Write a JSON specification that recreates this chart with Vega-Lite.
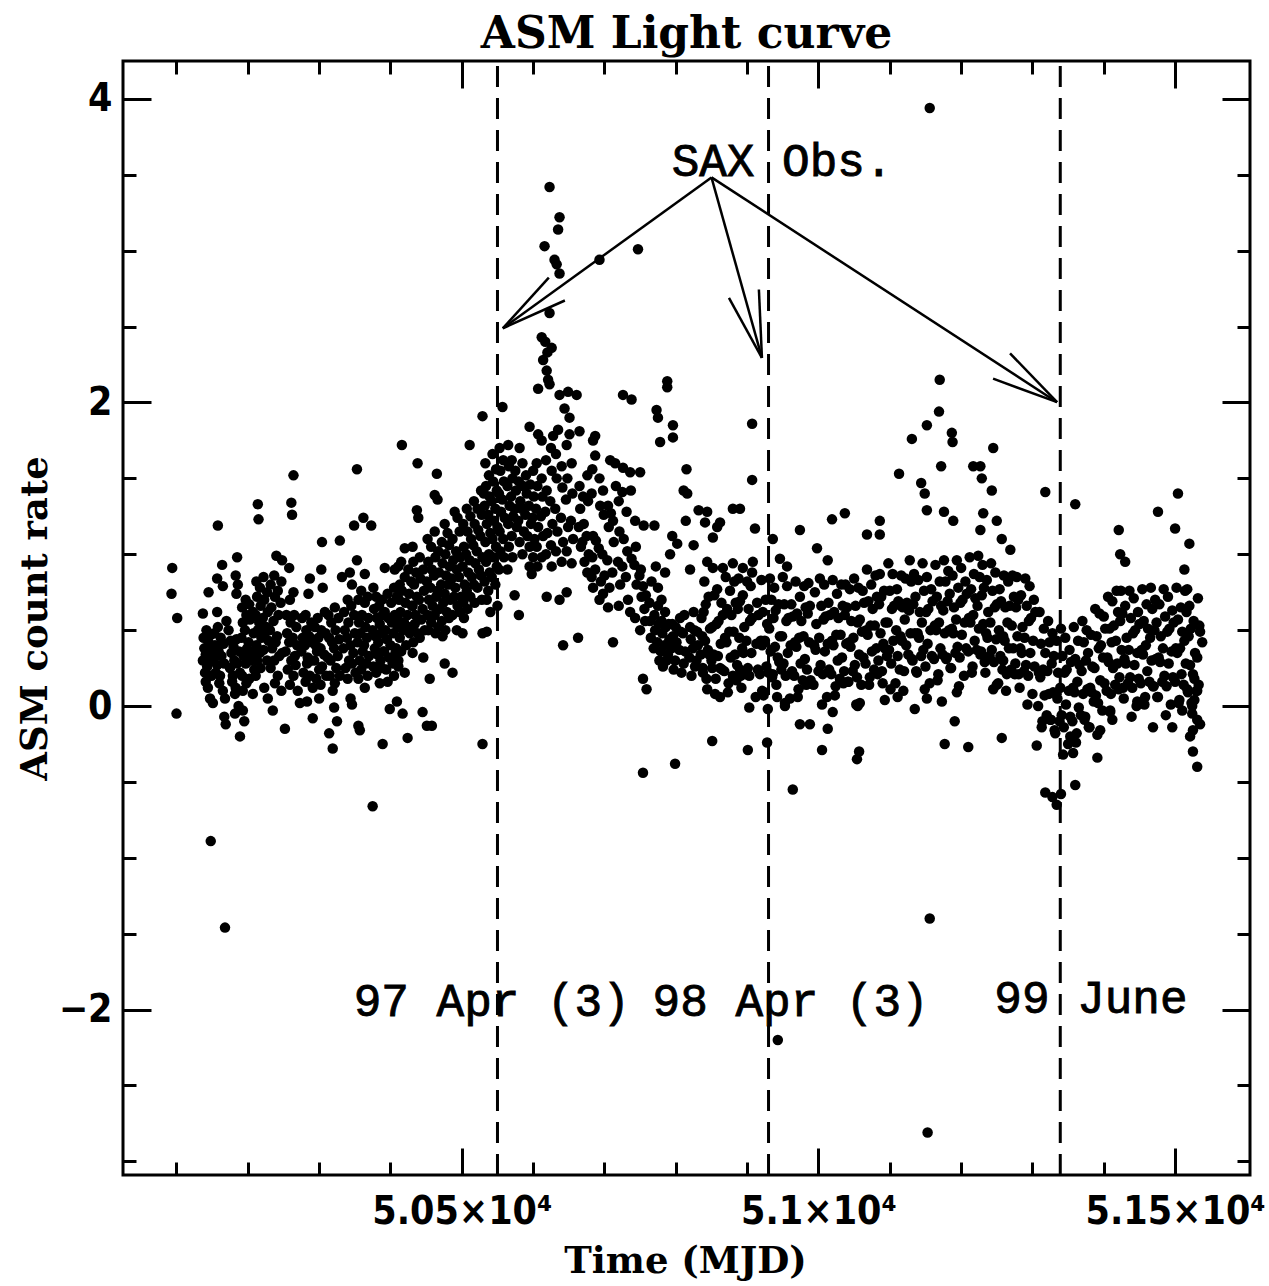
{
"$schema":"https://vega.github.io/schema/vega-lite/v6.json",
"width":1127,"height":1114,
"autosize":"none",
"padding":{"left":123,"top":61,"right":19,"bottom":111},
"background":"white",
"title":{"text":"ASM Light curve","font":"DejaVu Serif","fontSize":44,"fontWeight":"bold","color":"black","anchor":"middle","offset":3},
"config":{"view":{"stroke":"black","strokeWidth":3},"axis":{"domain":false,"grid":false,"tickColor":"black","tickWidth":3,"labelColor":"black","titleColor":"black"}},
"datasets":{
"obs":[{"t":50550},{"t":50930},{"t":51339}],
"arrows":[
{"t":50850,"r":3.483,"t2":50557.5,"r2":2.489},
{"t":50557.5,"r":2.489,"t2":50644.5,"r2":2.672},
{"t":50557.5,"r":2.489,"t2":50622,"r2":2.823},
{"t":50850,"r":3.483,"t2":50920.75,"r2":2.294},
{"t":50920.75,"r":2.294,"t2":50916.5,"r2":2.744},
{"t":50920.75,"r":2.294,"t2":50874.5,"r2":2.689},
{"t":50850,"r":3.483,"t2":51334.5,"r2":2.002},
{"t":51334.5,"r":2.002,"t2":51268.6,"r2":2.324},
{"t":51334.5,"r":2.002,"t2":51244.8,"r2":2.157}],
"sax":[{"t":50949,"r":3.49,"label":"SAX Obs."}],
"dates":[{"t":50542,"r":-2.04,"label":"97 Apr (3)"},{"t":50961,"r":-2.04,"label":"98 Apr (3)"},{"t":51382,"r":-2.02,"label":"99 June"}],
"pts":[
{"t":50094,"r":0.91},{"t":50093,"r":0.74},{"t":50101,"r":0.58},{"t":50100,"r":-0.05},
{"t":50137,"r":0.61},{"t":50145,"r":0.75},{"t":50138,"r":0.45},{"t":50139,"r":0.38},{"t":50137,"r":0.30},{"t":50140,"r":0.22},{"t":50142,"r":0.50},{"t":50141,"r":0.34},{"t":50143,"r":0.26},{"t":50141,"r":0.16},{"t":50145,"r":0.42},{"t":50146,"r":0.29},{"t":50144,"r":0.12},{"t":50148,"r":0.47},{"t":50149,"r":0.20},{"t":50147,"r":0.05},{"t":50148,"r":0.36},{"t":50151,"r":0.02},{"t":50148,"r":-0.89},
{"t":50158,"r":1.19},{"t":50164,"r":0.93},{"t":50157,"r":0.84},{"t":50165,"r":0.79},{"t":50157,"r":0.62},{"t":50170,"r":0.56},{"t":50153,"r":0.48},{"t":50154,"r":0.40},{"t":50152,"r":0.31},{"t":50155,"r":0.22},{"t":50158,"r":0.52},{"t":50159,"r":0.36},{"t":50157,"r":0.27},{"t":50160,"r":0.15},{"t":50162,"r":0.45},{"t":50163,"r":0.33},{"t":50161,"r":0.20},{"t":50166,"r":0.41},{"t":50167,"r":0.28},{"t":50165,"r":0.10},{"t":50168,"r":0.05},{"t":50167,"r":-0.07},{"t":50169,"r":-0.12},{"t":50168,"r":-1.46},
{"t":50185,"r":0.98},{"t":50183,"r":0.86},{"t":50186,"r":0.80},{"t":50184,"r":0.74},{"t":50173,"r":0.50},{"t":50176,"r":0.43},{"t":50177,"r":0.35},{"t":50175,"r":0.25},{"t":50178,"r":0.16},{"t":50180,"r":0.39},{"t":50181,"r":0.30},{"t":50179,"r":0.20},{"t":50182,"r":0.08},{"t":50184,"r":0.44},{"t":50185,"r":0.28},{"t":50183,"r":0.12},{"t":50188,"r":0.36},{"t":50189,"r":0.22},{"t":50187,"r":0.00},{"t":50182,"r":-0.05},{"t":50189,"r":-0.20},
{"t":50193,"r":-0.03},{"t":50195,"r":-0.10},{"t":50192,"r":0.65},{"t":50193,"r":0.55},{"t":50191,"r":0.45},{"t":50194,"r":0.33},{"t":50192,"r":0.20},{"t":50193,"r":0.10},{"t":50197,"r":0.70},{"t":50198,"r":0.60},{"t":50196,"r":0.50},{"t":50199,"r":0.38},{"t":50197,"r":0.28},{"t":50198,"r":0.15},{"t":50202,"r":0.67},{"t":50203,"r":0.57},{"t":50201,"r":0.42},{"t":50204,"r":0.30},{"t":50202,"r":0.18},{"t":50207,"r":0.62},{"t":50208,"r":0.48},{"t":50206,"r":0.35},{"t":50209,"r":0.24},{"t":50207,"r":0.08},
{"t":50214,"r":1.33},{"t":50215,"r":1.23},{"t":50212,"r":0.82},{"t":50213,"r":0.72},{"t":50211,"r":0.60},{"t":50214,"r":0.50},{"t":50212,"r":0.40},{"t":50213,"r":0.30},{"t":50211,"r":0.20},{"t":50217,"r":0.78},{"t":50218,"r":0.66},{"t":50216,"r":0.55},{"t":50219,"r":0.45},{"t":50217,"r":0.35},{"t":50218,"r":0.25},{"t":50222,"r":0.85},{"t":50223,"r":0.70},{"t":50221,"r":0.58},{"t":50224,"r":0.48},{"t":50222,"r":0.37},{"t":50223,"r":0.12},{"t":50227,"r":0.75},{"t":50228,"r":0.62},{"t":50226,"r":0.52},{"t":50229,"r":0.43},{"t":50227,"r":0.30},{"t":50228,"r":0.05},
{"t":50235,"r":-0.03},{"t":50240,"r":0.99},{"t":50248,"r":0.96},{"t":50232,"r":0.80},{"t":50233,"r":0.65},{"t":50231,"r":0.50},{"t":50234,"r":0.38},{"t":50232,"r":0.25},{"t":50237,"r":0.86},{"t":50238,"r":0.72},{"t":50236,"r":0.56},{"t":50239,"r":0.42},{"t":50237,"r":0.30},{"t":50238,"r":0.15},{"t":50242,"r":0.76},{"t":50243,"r":0.60},{"t":50241,"r":0.46},{"t":50244,"r":0.33},{"t":50242,"r":0.20},{"t":50247,"r":0.82},{"t":50246,"r":0.68},{"t":50248,"r":0.35},{"t":50247,"r":0.10},
{"t":50252,"r":-0.15},{"t":50264,"r":1.52},{"t":50261,"r":1.34},{"t":50262,"r":1.26},{"t":50258,"r":0.91},{"t":50254,"r":0.60},{"t":50255,"r":0.48},{"t":50253,"r":0.36},{"t":50256,"r":0.24},{"t":50259,"r":0.70},{"t":50260,"r":0.55},{"t":50258,"r":0.42},{"t":50261,"r":0.30},{"t":50259,"r":0.14},{"t":50264,"r":0.75},{"t":50265,"r":0.60},{"t":50263,"r":0.45},{"t":50266,"r":0.33},{"t":50264,"r":0.20},{"t":50268,"r":0.52},{"t":50269,"r":0.40},{"t":50267,"r":0.27},{"t":50270,"r":0.10},
{"t":50273,"r":0.02},{"t":50283,"r":0.03},{"t":50287,"r":0.84},{"t":50276,"r":0.58},{"t":50277,"r":0.45},{"t":50275,"r":0.36},{"t":50278,"r":0.22},{"t":50281,"r":0.60},{"t":50282,"r":0.50},{"t":50280,"r":0.40},{"t":50283,"r":0.28},{"t":50281,"r":0.16},{"t":50285,"r":0.74},{"t":50286,"r":0.46},{"t":50284,"r":0.32},{"t":50287,"r":0.20},{"t":50289,"r":0.55},{"t":50290,"r":0.42},{"t":50288,"r":0.30},{"t":50291,"r":0.12},
{"t":50291,"r":-0.08},{"t":50300,"r":0.05},{"t":50304,"r":1.08},{"t":50303,"r":0.90},{"t":50305,"r":0.78},{"t":50294,"r":0.52},{"t":50295,"r":0.40},{"t":50293,"r":0.30},{"t":50296,"r":0.18},{"t":50298,"r":0.58},{"t":50299,"r":0.45},{"t":50297,"r":0.36},{"t":50300,"r":0.24},{"t":50303,"r":0.50},{"t":50302,"r":0.38},{"t":50304,"r":0.26},{"t":50302,"r":0.14},{"t":50308,"r":0.62},{"t":50309,"r":0.48},{"t":50307,"r":0.34},{"t":50310,"r":0.20},{"t":50314,"r":-0.18},
{"t":50329,"r":1.09},{"t":50321,"r":-0.01},{"t":50325,"r":-0.10},{"t":50319,"r":-0.28},{"t":50332,"r":0.85},{"t":50313,"r":0.60},{"t":50314,"r":0.45},{"t":50312,"r":0.32},{"t":50315,"r":0.20},{"t":50317,"r":0.55},{"t":50318,"r":0.42},{"t":50316,"r":0.30},{"t":50319,"r":0.10},{"t":50322,"r":0.65},{"t":50323,"r":0.50},{"t":50321,"r":0.38},{"t":50324,"r":0.25},{"t":50322,"r":0.15},{"t":50327,"r":0.58},{"t":50328,"r":0.44},{"t":50326,"r":0.33},{"t":50329,"r":0.20},
{"t":50349,"r":1.19},{"t":50353,"r":1.56},{"t":50344,"r":0.05},{"t":50346,"r":0.01},{"t":50355,"r":-0.13},{"t":50357,"r":-0.16},{"t":50343,"r":0.88},{"t":50346,"r":0.80},{"t":50335,"r":0.62},{"t":50336,"r":0.50},{"t":50334,"r":0.38},{"t":50337,"r":0.25},{"t":50340,"r":0.70},{"t":50341,"r":0.55},{"t":50339,"r":0.45},{"t":50342,"r":0.30},{"t":50340,"r":0.18},{"t":50345,"r":0.66},{"t":50344,"r":0.40},{"t":50346,"r":0.28},{"t":50349,"r":0.60},{"t":50350,"r":0.48},{"t":50348,"r":0.35},{"t":50351,"r":0.22},
{"t":50362,"r":1.24},{"t":50373,"r":1.19},{"t":50364,"r":0.87},{"t":50375,"r":-0.66},{"t":50353,"r":0.96},{"t":50355,"r":0.70},{"t":50356,"r":0.55},{"t":50354,"r":0.42},{"t":50357,"r":0.30},{"t":50355,"r":0.18},{"t":50359,"r":0.76},{"t":50360,"r":0.60},{"t":50358,"r":0.48},{"t":50361,"r":0.36},{"t":50359,"r":0.24},{"t":50364,"r":0.68},{"t":50365,"r":0.52},{"t":50363,"r":0.40},{"t":50366,"r":0.28},{"t":50364,"r":0.12},{"t":50368,"r":0.72},{"t":50369,"r":0.58},{"t":50367,"r":0.45},{"t":50370,"r":0.33},{"t":50368,"r":0.20},
{"t":50385,"r":0.15},{"t":50389,"r":-0.25},{"t":50376,"r":0.78},{"t":50377,"r":0.64},{"t":50375,"r":0.50},{"t":50378,"r":0.38},{"t":50376,"r":0.26},{"t":50380,"r":0.72},{"t":50381,"r":0.58},{"t":50379,"r":0.46},{"t":50382,"r":0.34},{"t":50380,"r":0.22},{"t":50384,"r":0.66},{"t":50385,"r":0.54},{"t":50383,"r":0.42},{"t":50386,"r":0.30},{"t":50388,"r":0.70},{"t":50389,"r":0.60},{"t":50387,"r":0.48},{"t":50390,"r":0.36},{"t":50388,"r":0.25},{"t":50392,"r":0.91},
{"t":50399,"r":-0.02},{"t":50409,"r":0.03},{"t":50406,"r":0.90},{"t":50392,"r":0.62},{"t":50393,"r":0.50},{"t":50391,"r":0.36},{"t":50394,"r":0.24},{"t":50396,"r":0.74},{"t":50397,"r":0.58},{"t":50395,"r":0.44},{"t":50398,"r":0.32},{"t":50396,"r":0.16},{"t":50401,"r":0.68},{"t":50402,"r":0.55},{"t":50400,"r":0.40},{"t":50403,"r":0.28},{"t":50405,"r":0.78},{"t":50406,"r":0.60},{"t":50404,"r":0.48},{"t":50407,"r":0.35},{"t":50405,"r":0.20},{"t":50409,"r":0.72},{"t":50410,"r":0.52},{"t":50408,"r":0.38},{"t":50411,"r":0.26},
{"t":50416,"r":1.72},{"t":50417,"r":-0.05},{"t":50424,"r":-0.21},{"t":50420,"r":1.04},{"t":50413,"r":0.80},{"t":50411,"r":0.92},{"t":50412,"r":0.70},{"t":50410,"r":0.58},{"t":50413,"r":0.45},{"t":50411,"r":0.30},{"t":50415,"r":0.95},{"t":50416,"r":0.76},{"t":50414,"r":0.62},{"t":50417,"r":0.50},{"t":50415,"r":0.36},{"t":50420,"r":0.85},{"t":50421,"r":0.68},{"t":50419,"r":0.55},{"t":50422,"r":0.40},{"t":50420,"r":0.22},{"t":50425,"r":0.90},{"t":50426,"r":0.74},{"t":50424,"r":0.60},{"t":50427,"r":0.48},{"t":50429,"r":0.82},{"t":50430,"r":0.66},{"t":50428,"r":0.52},{"t":50431,"r":0.35},
{"t":50438,"r":1.60},{"t":50437,"r":1.29},{"t":50439,"r":1.24},{"t":50431,"r":1.05},{"t":50445,"r":-0.04},{"t":50451,"r":-0.13},{"t":50432,"r":0.95},{"t":50433,"r":0.80},{"t":50431,"r":0.66},{"t":50434,"r":0.54},{"t":50432,"r":0.42},{"t":50436,"r":0.88},{"t":50437,"r":0.72},{"t":50435,"r":0.60},{"t":50438,"r":0.48},{"t":50441,"r":0.98},{"t":50442,"r":0.84},{"t":50440,"r":0.70},{"t":50443,"r":0.57},{"t":50441,"r":0.45},{"t":50446,"r":0.90},{"t":50447,"r":0.76},{"t":50445,"r":0.64},{"t":50448,"r":0.50},{"t":50446,"r":0.32},
{"t":50465,"r":1.53},{"t":50462,"r":1.39},{"t":50466,"r":1.36},{"t":50455,"r":0.18},{"t":50458,"r":-0.13},{"t":50452,"r":1.10},{"t":50453,"r":0.95},{"t":50451,"r":0.82},{"t":50454,"r":0.70},{"t":50452,"r":0.60},{"t":50453,"r":0.50},{"t":50457,"r":1.05},{"t":50458,"r":0.90},{"t":50456,"r":0.78},{"t":50459,"r":0.66},{"t":50457,"r":0.55},{"t":50462,"r":1.15},{"t":50463,"r":0.98},{"t":50461,"r":0.86},{"t":50464,"r":0.72},{"t":50462,"r":0.60},{"t":50463,"r":0.48},{"t":50467,"r":1.02},{"t":50468,"r":0.88},{"t":50466,"r":0.76},{"t":50469,"r":0.64},{"t":50467,"r":0.52},
{"t":50476,"r":0.28},{"t":50487,"r":0.22},{"t":50476,"r":1.20},{"t":50480,"r":1.14},{"t":50490,"r":1.28},{"t":50494,"r":1.24},{"t":50472,"r":1.08},{"t":50473,"r":0.94},{"t":50471,"r":0.80},{"t":50474,"r":0.68},{"t":50472,"r":0.56},{"t":50473,"r":0.46},{"t":50477,"r":1.00},{"t":50478,"r":0.86},{"t":50476,"r":0.74},{"t":50479,"r":0.62},{"t":50477,"r":0.50},{"t":50482,"r":1.06},{"t":50483,"r":0.92},{"t":50481,"r":0.80},{"t":50484,"r":0.70},{"t":50482,"r":0.58},{"t":50487,"r":1.10},{"t":50488,"r":0.96},{"t":50486,"r":0.84},{"t":50489,"r":0.72},{"t":50487,"r":0.60},{"t":50493,"r":0.50},{"t":50492,"r":1.02},{"t":50493,"r":0.90},{"t":50491,"r":0.78},{"t":50494,"r":0.66},{"t":50497,"r":1.15},{"t":50498,"r":0.98},{"t":50496,"r":0.85},{"t":50499,"r":0.72},{"t":50497,"r":0.62},
{"t":50511,"r":1.72},{"t":50529,"r":1.91},{"t":50531,"r":1.40},{"t":50501,"r":0.48},{"t":50529,"r":0.48},{"t":50535,"r":0.49},{"t":50529,"r":-0.25},{"t":50502,"r":1.20},{"t":50503,"r":1.05},{"t":50501,"r":0.92},{"t":50504,"r":0.80},{"t":50502,"r":0.68},{"t":50503,"r":0.58},{"t":50507,"r":1.30},{"t":50508,"r":1.15},{"t":50506,"r":1.00},{"t":50509,"r":0.88},{"t":50507,"r":0.76},{"t":50508,"r":0.64},{"t":50512,"r":1.25},{"t":50513,"r":1.10},{"t":50511,"r":0.96},{"t":50514,"r":0.85},{"t":50512,"r":0.72},{"t":50517,"r":1.35},{"t":50518,"r":1.20},{"t":50516,"r":1.06},{"t":50519,"r":0.94},{"t":50517,"r":0.80},{"t":50518,"r":0.68},{"t":50522,"r":1.30},{"t":50523,"r":1.16},{"t":50521,"r":1.02},{"t":50524,"r":0.90},{"t":50522,"r":0.78},{"t":50527,"r":1.42},{"t":50528,"r":1.26},{"t":50526,"r":1.12},{"t":50529,"r":0.98},{"t":50527,"r":0.86},{"t":50528,"r":0.70},
{"t":50557,"r":1.97},{"t":50533,"r":1.60},{"t":50534,"r":1.45},{"t":50532,"r":1.32},{"t":50535,"r":1.20},{"t":50533,"r":1.08},{"t":50534,"r":0.95},{"t":50532,"r":0.82},{"t":50535,"r":0.70},{"t":50538,"r":1.52},{"t":50539,"r":1.38},{"t":50537,"r":1.26},{"t":50540,"r":1.14},{"t":50538,"r":1.00},{"t":50539,"r":0.88},{"t":50537,"r":0.76},{"t":50540,"r":0.62},{"t":50543,"r":1.66},{"t":50544,"r":1.48},{"t":50542,"r":1.35},{"t":50545,"r":1.22},{"t":50543,"r":1.10},{"t":50544,"r":0.98},{"t":50542,"r":0.85},{"t":50548,"r":1.56},{"t":50549,"r":1.42},{"t":50547,"r":1.30},{"t":50550,"r":1.18},{"t":50548,"r":1.05},{"t":50549,"r":0.92},{"t":50547,"r":0.80},{"t":50550,"r":0.66},{"t":50553,"r":1.70},{"t":50554,"r":1.55},{"t":50552,"r":1.40},{"t":50555,"r":1.28},{"t":50553,"r":1.15},{"t":50554,"r":1.02},{"t":50552,"r":0.90},{"t":50558,"r":1.62},{"t":50559,"r":1.48},{"t":50557,"r":1.36},{"t":50560,"r":1.24},{"t":50558,"r":1.10},{"t":50559,"r":0.98},{"t":50574,"r":0.73},{"t":50580,"r":0.60},
{"t":50565,"r":1.72},{"t":50566,"r":1.58},{"t":50564,"r":1.45},{"t":50567,"r":1.32},{"t":50565,"r":1.20},{"t":50566,"r":1.05},{"t":50564,"r":0.90},{"t":50570,"r":1.62},{"t":50571,"r":1.50},{"t":50569,"r":1.38},{"t":50572,"r":1.25},{"t":50570,"r":1.12},{"t":50571,"r":0.98},{"t":50575,"r":1.55},{"t":50576,"r":1.42},{"t":50574,"r":1.30},{"t":50577,"r":1.18},{"t":50581,"r":1.70},{"t":50580,"r":1.48},{"t":50582,"r":1.35},{"t":50579,"r":1.22},{"t":50581,"r":1.08},{"t":50585,"r":1.60},{"t":50586,"r":1.45},{"t":50584,"r":1.30},{"t":50587,"r":1.15},{"t":50585,"r":1.00},{"t":50590,"r":1.52},{"t":50591,"r":1.40},{"t":50589,"r":1.26},{"t":50592,"r":1.12},{"t":50595,"r":1.84},{"t":50596,"r":1.46},{"t":50594,"r":1.32},{"t":50597,"r":1.20},{"t":50595,"r":1.05},{"t":50600,"r":1.55},{"t":50601,"r":1.38},{"t":50599,"r":1.24},{"t":50602,"r":1.10},{"t":50600,"r":0.98},{"t":50595,"r":0.92},{"t":50598,"r":0.87},
{"t":50623,"r":3.42},{"t":50637,"r":3.22},{"t":50635,"r":3.14},{"t":50616,"r":3.03},{"t":50630,"r":2.94},{"t":50633,"r":2.91},{"t":50637,"r":2.85},{"t":50623,"r":2.59},{"t":50612,"r":2.43},{"t":50617,"r":2.40},{"t":50626,"r":2.36},{"t":50620,"r":2.33},{"t":50614,"r":2.28},{"t":50619,"r":2.21},{"t":50621,"r":2.15},{"t":50607,"r":2.09},{"t":50623,"r":2.12},{"t":50637,"r":2.05},{"t":50649,"r":2.07},{"t":50661,"r":2.05},{"t":50644,"r":1.96},{"t":50651,"r":1.90},{"t":50607,"r":1.79},{"t":50612,"r":1.75},{"t":50651,"r":1.79},{"t":50665,"r":1.81},{"t":50687,"r":1.78},
{"t":50605,"r":1.60},{"t":50606,"r":1.45},{"t":50604,"r":1.30},{"t":50607,"r":1.18},{"t":50605,"r":1.05},{"t":50606,"r":0.92},{"t":50612,"r":1.50},{"t":50613,"r":1.38},{"t":50611,"r":1.25},{"t":50614,"r":1.12},{"t":50612,"r":0.98},{"t":50618,"r":1.62},{"t":50619,"r":1.42},{"t":50617,"r":1.28},{"t":50620,"r":1.14},{"t":50618,"r":1.00},{"t":50625,"r":1.70},{"t":50626,"r":1.55},{"t":50624,"r":1.35},{"t":50627,"r":1.20},{"t":50625,"r":1.06},{"t":50626,"r":0.92},{"t":50632,"r":1.66},{"t":50633,"r":1.50},{"t":50631,"r":1.30},{"t":50634,"r":1.15},{"t":50632,"r":1.02},{"t":50640,"r":1.58},{"t":50641,"r":1.44},{"t":50639,"r":1.24},{"t":50642,"r":1.08},{"t":50640,"r":0.95},{"t":50647,"r":1.72},{"t":50648,"r":1.50},{"t":50646,"r":1.36},{"t":50649,"r":1.18},{"t":50647,"r":1.02},{"t":50654,"r":1.60},{"t":50655,"r":1.40},{"t":50653,"r":1.22},{"t":50656,"r":1.10},{"t":50654,"r":0.94},{"t":50619,"r":0.72},{"t":50637,"r":0.70},{"t":50647,"r":0.75},{"t":50642,"r":0.40},{"t":50663,"r":0.45},{"t":50712,"r":0.42},{"t":50628,"r":1.78},{"t":50635,"r":1.82},
{"t":50665,"r":1.45},{"t":50666,"r":1.30},{"t":50664,"r":1.18},{"t":50667,"r":1.05},{"t":50670,"r":1.38},{"t":50671,"r":1.20},{"t":50669,"r":1.08},{"t":50672,"r":0.95},{"t":50676,"r":1.52},{"t":50677,"r":1.35},{"t":50675,"r":1.12},{"t":50678,"r":1.00},{"t":50676,"r":0.88},{"t":50683,"r":1.56},{"t":50682,"r":1.40},{"t":50684,"r":1.12},{"t":50683,"r":0.98},{"t":50682,"r":0.85},{"t":50684,"r":0.78},{"t":50684,"r":1.75},{"t":50687,"r":1.65},{"t":50688,"r":1.09},{"t":50687,"r":0.90},{"t":50693,"r":2.94},{"t":50693,"r":1.50},{"t":50694,"r":1.32},{"t":50692,"r":1.04},{"t":50695,"r":0.82},{"t":50693,"r":0.70},{"t":50698,"r":1.42},{"t":50699,"r":1.26},{"t":50697,"r":1.00},{"t":50700,"r":0.86},{"t":50698,"r":0.74},
{"t":50705,"r":1.32},{"t":50706,"r":1.18},{"t":50704,"r":0.96},{"t":50707,"r":0.78},{"t":50705,"r":0.65},{"t":50708,"r":1.62},{"t":50709,"r":1.27},{"t":50712,"r":1.22},{"t":50713,"r":1.08},{"t":50711,"r":0.88},{"t":50715,"r":1.60},{"t":50716,"r":1.45},{"t":50720,"r":1.35},{"t":50721,"r":1.15},{"t":50719,"r":0.95},{"t":50722,"r":0.80},{"t":50720,"r":0.66},{"t":50726,"r":2.05},{"t":50726,"r":1.57},{"t":50725,"r":1.41},{"t":50727,"r":1.10},{"t":50725,"r":0.92},{"t":50731,"r":1.28},{"t":50732,"r":1.02},{"t":50730,"r":0.85},{"t":50733,"r":0.70},{"t":50738,"r":2.02},{"t":50736,"r":1.54},{"t":50737,"r":1.42},{"t":50738,"r":0.97},{"t":50736,"r":0.62},{"t":50743,"r":1.22},{"t":50744,"r":1.05},{"t":50742,"r":0.93},{"t":50745,"r":0.80},{"t":50743,"r":0.58},{"t":50747,"r":3.01},{"t":50750,"r":1.54},{"t":50751,"r":0.90},{"t":50749,"r":0.86},{"t":50752,"r":0.72},{"t":50750,"r":0.50},{"t":50754,"r":0.18},{"t":50755,"r":1.19},{"t":50754,"r":0.79},{"t":50757,"r":0.56},{"t":50758,"r":0.73},{"t":50756,"r":0.64},{"t":50759,"r":0.11},{"t":50754,"r":-0.44},
{"t":50764,"r":0.56},{"t":50765,"r":0.45},{"t":50763,"r":0.68},{"t":50766,"r":0.82},{"t":50770,"r":0.60},{"t":50771,"r":0.50},{"t":50769,"r":0.38},{"t":50772,"r":0.92},{"t":50770,"r":1.19},{"t":50775,"r":0.66},{"t":50776,"r":0.54},{"t":50774,"r":0.42},{"t":50777,"r":0.30},{"t":50775,"r":0.78},{"t":50780,"r":0.56},{"t":50781,"r":0.48},{"t":50779,"r":0.36},{"t":50782,"r":0.26},{"t":50780,"r":0.70},{"t":50785,"r":0.62},{"t":50786,"r":0.52},{"t":50784,"r":0.40},{"t":50787,"r":0.30},{"t":50785,"r":0.88},{"t":50788,"r":2.14},{"t":50788,"r":2.10},{"t":50773,"r":1.95},{"t":50775,"r":1.90},{"t":50796,"r":1.85},{"t":50796,"r":1.77},{"t":50778,"r":1.74},{"t":50790,"r":0.54},{"t":50791,"r":0.44},{"t":50789,"r":0.34},{"t":50792,"r":1.00},{"t":50795,"r":0.54},{"t":50796,"r":0.46},{"t":50794,"r":0.38},{"t":50797,"r":0.24},{"t":50795,"r":1.12},{"t":50799,"r":-0.38},{"t":50800,"r":0.52},{"t":50801,"r":0.42},{"t":50799,"r":0.30},{"t":50802,"r":1.07},{"t":50806,"r":0.58},{"t":50807,"r":0.49},{"t":50805,"r":0.37},{"t":50808,"r":0.22},{"t":50811,"r":1.42},{"t":50812,"r":0.60},{"t":50810,"r":0.48},{"t":50813,"r":0.36},{"t":50811,"r":0.28},{"t":50815,"r":1.56},{"t":50816,"r":1.40},{"t":50814,"r":1.22},{"t":50820,"r":0.52},{"t":50821,"r":0.44},{"t":50819,"r":0.32},{"t":50822,"r":0.20},{"t":50820,"r":0.90},{"t":50825,"r":0.62},{"t":50826,"r":0.50},{"t":50824,"r":0.38},{"t":50827,"r":0.26},{"t":50825,"r":1.06},{"t":50830,"r":0.49},{"t":50831,"r":0.40},{"t":50829,"r":0.30},{"t":50832,"r":1.29},{"t":50836,"r":0.58},{"t":50837,"r":0.46},{"t":50835,"r":0.34},{"t":50838,"r":0.22},
{"t":50841,"r":1.21},{"t":50844,"r":1.28},{"t":50844,"r":0.95},{"t":50852,"r":1.11},{"t":50858,"r":1.18},{"t":50862,"r":1.21},{"t":50866,"r":0.91},{"t":50880,"r":1.30},{"t":50880,"r":0.94},{"t":50890,"r":1.30},{"t":50894,"r":0.91},{"t":50907,"r":1.86},{"t":50907,"r":1.49},{"t":50907,"r":0.88},{"t":50908,"r":0.95},{"t":50911,"r":1.17},
{"t":50851,"r":0.25},{"t":50862,"r":0.25},{"t":50890,"r":0.24},{"t":50851,"r":-0.23},{"t":50901,"r":-0.29},{"t":50921,"r":0.10},{"t":50929,"r":-0.02},{"t":50928,"r":-0.24},
{"t":50840,"r":0.82},{"t":50842,"r":0.67},{"t":50839,"r":0.62},{"t":50841,"r":0.43},{"t":50838,"r":0.25},{"t":50843,"r":0.18},
{"t":50846,"r":0.72},{"t":50848,"r":0.51},{"t":50845,"r":0.37},{"t":50847,"r":0.34},{"t":50844,"r":0.11},
{"t":50852,"r":0.91},{"t":50854,"r":0.73},{"t":50851,"r":0.52},{"t":50853,"r":0.34},{"t":50850,"r":0.30},{"t":50855,"r":0.08},
{"t":50858,"r":0.77},{"t":50860,"r":0.56},{"t":50857,"r":0.54},{"t":50859,"r":0.33},{"t":50856,"r":0.18},
{"t":50864,"r":0.68},{"t":50866,"r":0.60},{"t":50863,"r":0.41},{"t":50865,"r":0.24},{"t":50862,"r":0.06},
{"t":50870,"r":0.85},{"t":50872,"r":0.64},{"t":50869,"r":0.45},{"t":50871,"r":0.42},{"t":50868,"r":0.23},{"t":50873,"r":0.09},
{"t":50876,"r":0.76},{"t":50878,"r":0.60},{"t":50875,"r":0.49},{"t":50877,"r":0.32},{"t":50874,"r":0.15},
{"t":50882,"r":0.82},{"t":50884,"r":0.68},{"t":50881,"r":0.49},{"t":50883,"r":0.34},{"t":50880,"r":0.20},{"t":50885,"r":0.17},
{"t":50888,"r":0.84},{"t":50890,"r":0.69},{"t":50887,"r":0.64},{"t":50889,"r":0.45},{"t":50886,"r":0.27},{"t":50891,"r":0.20},
{"t":50894,"r":0.73},{"t":50896,"r":0.52},{"t":50893,"r":0.38},{"t":50895,"r":0.35},{"t":50892,"r":0.12},
{"t":50900,"r":0.82},{"t":50902,"r":0.64},{"t":50899,"r":0.43},{"t":50901,"r":0.25},{"t":50898,"r":0.21},{"t":50903,"r":-0.01},
{"t":50905,"r":0.79},{"t":50907,"r":0.58},{"t":50904,"r":0.56},{"t":50906,"r":0.35},{"t":50903,"r":0.20},
{"t":50936,"r":1.10},{"t":50943,"r":-2.20},{"t":50946,"r":0.97},{"t":50953,"r":0.00},{"t":50956,"r":0.92},{"t":50964,"r":-0.55},{"t":50974,"r":1.16},{"t":50974,"r":-0.12},{"t":50988,"r":-0.12},
{"t":50914,"r":0.68},{"t":50916,"r":0.60},{"t":50913,"r":0.41},{"t":50915,"r":0.24},{"t":50912,"r":0.06},
{"t":50920,"r":0.83},{"t":50922,"r":0.62},{"t":50919,"r":0.43},{"t":50921,"r":0.40},{"t":50918,"r":0.21},{"t":50923,"r":0.07},
{"t":50926,"r":0.70},{"t":50928,"r":0.54},{"t":50925,"r":0.43},{"t":50927,"r":0.26},{"t":50924,"r":0.09},
{"t":50932,"r":0.84},{"t":50934,"r":0.70},{"t":50931,"r":0.51},{"t":50933,"r":0.36},{"t":50930,"r":0.22},{"t":50935,"r":0.19},
{"t":50938,"r":0.78},{"t":50940,"r":0.63},{"t":50937,"r":0.58},{"t":50939,"r":0.39},{"t":50936,"r":0.21},{"t":50941,"r":0.14},
{"t":50944,"r":0.67},{"t":50946,"r":0.46},{"t":50943,"r":0.32},{"t":50945,"r":0.29},{"t":50942,"r":0.06},
{"t":50950,"r":0.85},{"t":50952,"r":0.67},{"t":50949,"r":0.46},{"t":50951,"r":0.28},{"t":50948,"r":0.24},{"t":50953,"r":0.02},
{"t":50956,"r":0.79},{"t":50958,"r":0.58},{"t":50955,"r":0.56},{"t":50957,"r":0.35},{"t":50954,"r":0.20},
{"t":50962,"r":0.67},{"t":50964,"r":0.59},{"t":50961,"r":0.40},{"t":50963,"r":0.23},{"t":50960,"r":0.05},
{"t":50968,"r":0.82},{"t":50970,"r":0.61},{"t":50967,"r":0.42},{"t":50969,"r":0.39},{"t":50966,"r":0.20},{"t":50971,"r":0.06},
{"t":50974,"r":0.72},{"t":50976,"r":0.56},{"t":50973,"r":0.45},{"t":50975,"r":0.28},{"t":50972,"r":0.11},
{"t":50980,"r":0.79},{"t":50982,"r":0.65},{"t":50979,"r":0.46},{"t":50981,"r":0.31},{"t":50978,"r":0.17},{"t":50983,"r":0.14},
{"t":50986,"r":0.81},{"t":50988,"r":0.66},{"t":50985,"r":0.61},{"t":50987,"r":0.42},{"t":50984,"r":0.24},{"t":50989,"r":0.17},
{"t":50998,"r":1.04},{"t":51013,"r":0.96},{"t":51019,"r":1.23},{"t":51037,"r":1.27},{"t":51005,"r":-0.29},{"t":51013,"r":-0.15},{"t":51020,"r":-0.04},{"t":51054,"r":-0.35},{"t":51057,"r":-0.30},{"t":51055,"r":0.00},{"t":51058,"r":0.02},{"t":51068,"r":1.13},
{"t":50995,"r":0.75},{"t":50997,"r":0.54},{"t":50994,"r":0.40},{"t":50996,"r":0.37},{"t":50993,"r":0.14},
{"t":51002,"r":0.84},{"t":51004,"r":0.66},{"t":51001,"r":0.45},{"t":51003,"r":0.27},{"t":51000,"r":0.23},{"t":51005,"r":0.01},
{"t":51008,"r":0.80},{"t":51010,"r":0.59},{"t":51007,"r":0.57},{"t":51009,"r":0.36},{"t":51006,"r":0.21},
{"t":51014,"r":0.68},{"t":51016,"r":0.60},{"t":51013,"r":0.41},{"t":51015,"r":0.24},{"t":51012,"r":0.06},
{"t":51020,"r":0.83},{"t":51022,"r":0.62},{"t":51019,"r":0.43},{"t":51021,"r":0.40},{"t":51018,"r":0.21},{"t":51023,"r":0.07},
{"t":51026,"r":0.74},{"t":51028,"r":0.58},{"t":51025,"r":0.47},{"t":51027,"r":0.30},{"t":51024,"r":0.13},
{"t":51032,"r":0.80},{"t":51034,"r":0.66},{"t":51031,"r":0.47},{"t":51033,"r":0.32},{"t":51030,"r":0.18},{"t":51035,"r":0.15},
{"t":51038,"r":0.80},{"t":51040,"r":0.65},{"t":51037,"r":0.60},{"t":51039,"r":0.41},{"t":51036,"r":0.23},{"t":51041,"r":0.16},
{"t":51044,"r":0.77},{"t":51046,"r":0.56},{"t":51043,"r":0.42},{"t":51045,"r":0.39},{"t":51042,"r":0.16},
{"t":51050,"r":0.84},{"t":51052,"r":0.66},{"t":51049,"r":0.45},{"t":51051,"r":0.27},{"t":51048,"r":0.23},{"t":51053,"r":0.01},
{"t":51056,"r":0.78},{"t":51058,"r":0.57},{"t":51055,"r":0.55},{"t":51057,"r":0.34},{"t":51054,"r":0.19},
{"t":51062,"r":0.76},{"t":51064,"r":0.68},{"t":51061,"r":0.49},{"t":51063,"r":0.32},{"t":51060,"r":0.14},
{"t":51068,"r":0.90},{"t":51070,"r":0.69},{"t":51067,"r":0.50},{"t":51069,"r":0.47},{"t":51066,"r":0.28},{"t":51071,"r":0.14},
{"t":51086,"r":1.22},{"t":51086,"r":1.13},{"t":51093,"r":0.04},{"t":51111,"r":0.06},{"t":51113,"r":1.53},{"t":51131,"r":1.76},{"t":51135,"r":-0.02},{"t":51144,"r":1.47},{"t":51149,"r":1.40},
{"t":51074,"r":0.80},{"t":51076,"r":0.64},{"t":51073,"r":0.53},{"t":51075,"r":0.36},{"t":51072,"r":0.19},
{"t":51080,"r":0.86},{"t":51082,"r":0.72},{"t":51079,"r":0.53},{"t":51081,"r":0.38},{"t":51078,"r":0.24},{"t":51083,"r":0.21},
{"t":51086,"r":0.87},{"t":51088,"r":0.72},{"t":51085,"r":0.67},{"t":51087,"r":0.48},{"t":51084,"r":0.30},{"t":51089,"r":0.23},
{"t":51092,"r":0.76},{"t":51094,"r":0.55},{"t":51091,"r":0.41},{"t":51093,"r":0.38},{"t":51090,"r":0.15},
{"t":51098,"r":0.94},{"t":51100,"r":0.76},{"t":51097,"r":0.55},{"t":51099,"r":0.37},{"t":51096,"r":0.33},{"t":51101,"r":0.11},
{"t":51104,"r":0.87},{"t":51106,"r":0.66},{"t":51103,"r":0.64},{"t":51105,"r":0.43},{"t":51102,"r":0.28},
{"t":51110,"r":0.77},{"t":51112,"r":0.69},{"t":51109,"r":0.50},{"t":51111,"r":0.33},{"t":51108,"r":0.15},
{"t":51116,"r":0.86},{"t":51118,"r":0.65},{"t":51115,"r":0.46},{"t":51117,"r":0.43},{"t":51114,"r":0.24},{"t":51119,"r":0.10},
{"t":51122,"r":0.84},{"t":51124,"r":0.68},{"t":51121,"r":0.57},{"t":51123,"r":0.40},{"t":51120,"r":0.23},
{"t":51128,"r":0.96},{"t":51130,"r":0.82},{"t":51127,"r":0.63},{"t":51129,"r":0.48},{"t":51126,"r":0.34},{"t":51131,"r":0.31},
{"t":51134,"r":0.87},{"t":51136,"r":0.72},{"t":51133,"r":0.67},{"t":51135,"r":0.48},{"t":51132,"r":0.30},{"t":51137,"r":0.23},
{"t":51140,"r":0.83},{"t":51142,"r":0.62},{"t":51139,"r":0.48},{"t":51141,"r":0.45},{"t":51138,"r":0.22},
{"t":51146,"r":0.94},{"t":51148,"r":0.76},{"t":51145,"r":0.55},{"t":51147,"r":0.37},{"t":51144,"r":0.33},{"t":51149,"r":0.11},
{"t":51152,"r":1.85},{"t":51152,"r":1.29},{"t":51156,"r":3.94},{"t":51156,"r":-1.40},{"t":51153,"r":-2.81},{"t":51169,"r":1.94},{"t":51170,"r":2.15},{"t":51172,"r":1.58},{"t":51176,"r":1.28},{"t":51187,"r":1.80},{"t":51188,"r":1.74},{"t":51189,"r":1.22},{"t":51152,"r":0.05},{"t":51173,"r":0.03},{"t":51194,"r":0.09},{"t":51191,"r":-0.10},{"t":51177,"r":-0.25},{"t":51210,"r":-0.27},
{"t":51152,"r":0.85},{"t":51154,"r":0.64},{"t":51151,"r":0.62},{"t":51153,"r":0.41},{"t":51150,"r":0.26},
{"t":51158,"r":0.77},{"t":51160,"r":0.69},{"t":51157,"r":0.50},{"t":51159,"r":0.33},{"t":51156,"r":0.15},
{"t":51164,"r":0.93},{"t":51166,"r":0.72},{"t":51163,"r":0.53},{"t":51165,"r":0.50},{"t":51162,"r":0.31},{"t":51167,"r":0.17},
{"t":51170,"r":0.82},{"t":51172,"r":0.66},{"t":51169,"r":0.55},{"t":51171,"r":0.38},{"t":51168,"r":0.21},
{"t":51176,"r":0.96},{"t":51178,"r":0.82},{"t":51175,"r":0.63},{"t":51177,"r":0.48},{"t":51174,"r":0.34},{"t":51179,"r":0.31},
{"t":51182,"r":0.89},{"t":51184,"r":0.74},{"t":51181,"r":0.69},{"t":51183,"r":0.50},{"t":51180,"r":0.32},{"t":51185,"r":0.25},
{"t":51188,"r":0.86},{"t":51190,"r":0.65},{"t":51187,"r":0.51},{"t":51189,"r":0.48},{"t":51186,"r":0.25},
{"t":51194,"r":0.96},{"t":51196,"r":0.78},{"t":51193,"r":0.57},{"t":51195,"r":0.39},{"t":51192,"r":0.35},{"t":51197,"r":0.13},
{"t":51200,"r":0.91},{"t":51202,"r":0.70},{"t":51199,"r":0.68},{"t":51201,"r":0.47},{"t":51198,"r":0.32},
{"t":51206,"r":0.82},{"t":51208,"r":0.74},{"t":51205,"r":0.55},{"t":51207,"r":0.38},{"t":51204,"r":0.20},
{"t":51212,"r":0.98},{"t":51214,"r":0.77},{"t":51211,"r":0.58},{"t":51213,"r":0.55},{"t":51210,"r":0.36},{"t":51215,"r":0.22},
{"t":51218,"r":0.87},{"t":51220,"r":0.71},{"t":51217,"r":0.60},{"t":51219,"r":0.43},{"t":51216,"r":0.26},
{"t":51224,"r":0.99},{"t":51226,"r":0.85},{"t":51223,"r":0.66},{"t":51225,"r":0.51},{"t":51222,"r":0.37},{"t":51227,"r":0.34},
{"t":51217,"r":1.58},{"t":51227,"r":1.58},{"t":51229,"r":1.50},{"t":51243,"r":1.42},{"t":51231,"r":1.27},{"t":51245,"r":1.70},{"t":51250,"r":1.22},{"t":51227,"r":1.16},{"t":51257,"r":1.10},{"t":51269,"r":1.03},{"t":51318,"r":1.41},{"t":51360,"r":1.33},{"t":51257,"r":-0.21},{"t":51306,"r":-0.26},{"t":51250,"r":0.14},{"t":51259,"r":0.30},
{"t":51230,"r":0.93},{"t":51232,"r":0.78},{"t":51229,"r":0.73},{"t":51231,"r":0.54},{"t":51228,"r":0.36},{"t":51233,"r":0.29},
{"t":51236,"r":0.83},{"t":51238,"r":0.62},{"t":51235,"r":0.48},{"t":51237,"r":0.45},{"t":51234,"r":0.22},
{"t":51242,"r":0.94},{"t":51244,"r":0.76},{"t":51241,"r":0.55},{"t":51243,"r":0.37},{"t":51240,"r":0.33},{"t":51245,"r":0.11},
{"t":51248,"r":0.88},{"t":51250,"r":0.67},{"t":51247,"r":0.65},{"t":51249,"r":0.44},{"t":51246,"r":0.29},
{"t":51254,"r":0.77},{"t":51256,"r":0.69},{"t":51253,"r":0.50},{"t":51255,"r":0.33},{"t":51252,"r":0.15},
{"t":51260,"r":0.86},{"t":51262,"r":0.65},{"t":51259,"r":0.46},{"t":51261,"r":0.43},{"t":51258,"r":0.24},{"t":51263,"r":0.10},
{"t":51266,"r":0.82},{"t":51268,"r":0.66},{"t":51265,"r":0.55},{"t":51267,"r":0.38},{"t":51264,"r":0.21},
{"t":51272,"r":0.86},{"t":51274,"r":0.72},{"t":51271,"r":0.53},{"t":51273,"r":0.38},{"t":51270,"r":0.24},{"t":51275,"r":0.21},
{"t":51278,"r":0.85},{"t":51280,"r":0.70},{"t":51277,"r":0.65},{"t":51279,"r":0.46},{"t":51276,"r":0.28},{"t":51281,"r":0.21},
{"t":51284,"r":0.73},{"t":51286,"r":0.52},{"t":51283,"r":0.38},{"t":51285,"r":0.35},{"t":51282,"r":0.12},
{"t":51290,"r":0.84},{"t":51292,"r":0.66},{"t":51289,"r":0.45},{"t":51291,"r":0.27},{"t":51288,"r":0.23},{"t":51293,"r":0.01},
{"t":51296,"r":0.79},{"t":51298,"r":0.58},{"t":51295,"r":0.56},{"t":51297,"r":0.35},{"t":51294,"r":0.20},
{"t":51302,"r":0.70},{"t":51304,"r":0.62},{"t":51301,"r":0.43},{"t":51303,"r":0.26},{"t":51300,"r":0.08},
{"t":51318,"r":-0.57},{"t":51328,"r":-0.60},{"t":51334,"r":-0.65},{"t":51340,"r":-0.58},{"t":51357,"r":-0.31},{"t":51360,"r":-0.52},{"t":51353,"r":-0.20},
{"t":51310,"r":0.62},{"t":51312,"r":0.41},{"t":51309,"r":0.22},{"t":51311,"r":0.19},{"t":51308,"r":0.00},{"t":51313,"r":-0.14},
{"t":51316,"r":0.51},{"t":51318,"r":0.35},{"t":51315,"r":0.24},{"t":51317,"r":0.07},{"t":51314,"r":-0.10},
{"t":51322,"r":0.56},{"t":51324,"r":0.42},{"t":51321,"r":0.23},{"t":51323,"r":0.08},{"t":51320,"r":-0.06},{"t":51325,"r":-0.09},
{"t":51328,"r":0.48},{"t":51330,"r":0.33},{"t":51327,"r":0.28},{"t":51329,"r":0.09},{"t":51326,"r":-0.09},{"t":51331,"r":-0.16},
{"t":51334,"r":0.43},{"t":51336,"r":0.22},{"t":51333,"r":0.08},{"t":51335,"r":0.05},{"t":51332,"r":-0.18},
{"t":51340,"r":0.51},{"t":51342,"r":0.33},{"t":51339,"r":0.12},{"t":51341,"r":-0.06},{"t":51338,"r":-0.10},{"t":51343,"r":-0.32},
{"t":51346,"r":0.45},{"t":51348,"r":0.24},{"t":51345,"r":0.22},{"t":51347,"r":0.01},{"t":51344,"r":-0.14},
{"t":51352,"r":0.37},{"t":51354,"r":0.29},{"t":51351,"r":0.10},{"t":51353,"r":-0.07},{"t":51350,"r":-0.25},
{"t":51358,"r":0.52},{"t":51360,"r":0.31},{"t":51357,"r":0.12},{"t":51359,"r":0.09},{"t":51356,"r":-0.10},{"t":51361,"r":-0.24},
{"t":51364,"r":0.43},{"t":51366,"r":0.27},{"t":51363,"r":0.16},{"t":51365,"r":-0.01},{"t":51362,"r":-0.18},
{"t":51370,"r":0.56},{"t":51372,"r":0.42},{"t":51369,"r":0.23},{"t":51371,"r":0.08},{"t":51368,"r":-0.06},{"t":51373,"r":-0.09},
{"t":51376,"r":0.50},{"t":51378,"r":0.35},{"t":51375,"r":0.30},{"t":51377,"r":0.11},{"t":51374,"r":-0.07},{"t":51379,"r":-0.14},
{"t":51382,"r":0.47},{"t":51384,"r":0.26},{"t":51381,"r":0.12},{"t":51383,"r":0.09},{"t":51380,"r":-0.14},
{"t":51388,"r":0.64},{"t":51390,"r":0.46},{"t":51387,"r":0.25},{"t":51389,"r":0.07},{"t":51386,"r":0.03},{"t":51391,"r":-0.19},
{"t":51391,"r":-0.34},{"t":51395,"r":-0.16},{"t":51409,"r":-0.03},{"t":51412,"r":-0.09},{"t":51421,"r":1.16},{"t":51423,"r":1.00},{"t":51430,"r":0.95},{"t":51447,"r":0.03},{"t":51469,"r":-0.14},
{"t":51394,"r":0.61},{"t":51396,"r":0.40},{"t":51393,"r":0.38},{"t":51395,"r":0.17},{"t":51392,"r":0.02},
{"t":51400,"r":0.59},{"t":51402,"r":0.51},{"t":51399,"r":0.32},{"t":51401,"r":0.15},{"t":51398,"r":-0.03},
{"t":51406,"r":0.72},{"t":51408,"r":0.51},{"t":51405,"r":0.32},{"t":51407,"r":0.29},{"t":51404,"r":0.10},{"t":51409,"r":-0.04},
{"t":51412,"r":0.69},{"t":51414,"r":0.53},{"t":51411,"r":0.42},{"t":51413,"r":0.25},{"t":51410,"r":0.08},
{"t":51418,"r":0.76},{"t":51420,"r":0.62},{"t":51417,"r":0.43},{"t":51419,"r":0.28},{"t":51416,"r":0.14},{"t":51421,"r":0.11},
{"t":51424,"r":0.76},{"t":51426,"r":0.61},{"t":51423,"r":0.56},{"t":51425,"r":0.37},{"t":51422,"r":0.19},{"t":51427,"r":0.12},
{"t":51430,"r":0.66},{"t":51432,"r":0.45},{"t":51429,"r":0.31},{"t":51431,"r":0.28},{"t":51428,"r":0.05},
{"t":51436,"r":0.76},{"t":51438,"r":0.58},{"t":51435,"r":0.37},{"t":51437,"r":0.19},{"t":51434,"r":0.15},{"t":51439,"r":-0.07},
{"t":51442,"r":0.71},{"t":51444,"r":0.50},{"t":51441,"r":0.48},{"t":51443,"r":0.27},{"t":51440,"r":0.12},
{"t":51448,"r":0.62},{"t":51450,"r":0.54},{"t":51447,"r":0.35},{"t":51449,"r":0.18},{"t":51446,"r":0.00},
{"t":51454,"r":0.77},{"t":51456,"r":0.56},{"t":51453,"r":0.37},{"t":51455,"r":0.34},{"t":51452,"r":0.15},{"t":51457,"r":0.01},
{"t":51460,"r":0.67},{"t":51462,"r":0.51},{"t":51459,"r":0.40},{"t":51461,"r":0.23},{"t":51458,"r":0.06},
{"t":51466,"r":0.78},{"t":51468,"r":0.64},{"t":51465,"r":0.45},{"t":51467,"r":0.30},{"t":51464,"r":0.16},{"t":51469,"r":0.13},
{"t":51476,"r":1.28},{"t":51496,"r":-0.14},{"t":51500,"r":1.17},{"t":51504,"r":1.40},{"t":51510,"r":-0.03},{"t":51513,"r":0.90},{"t":51517,"r":0.77},{"t":51520,"r":1.07},{"t":51521,"r":-0.20},{"t":51524,"r":0.00},{"t":51525,"r":-0.16},{"t":51525,"r":-0.30},{"t":51527,"r":0.04},{"t":51531,"r":0.10},{"t":51531,"r":-0.09},{"t":51531,"r":-0.40},{"t":51535,"r":0.49},{"t":51538,"r":0.42},
{"t":51472,"r":0.70},{"t":51474,"r":0.55},{"t":51471,"r":0.50},{"t":51473,"r":0.31},{"t":51470,"r":0.13},{"t":51475,"r":0.06},
{"t":51478,"r":0.67},{"t":51480,"r":0.46},{"t":51477,"r":0.32},{"t":51479,"r":0.29},{"t":51476,"r":0.06},
{"t":51484,"r":0.77},{"t":51486,"r":0.59},{"t":51483,"r":0.38},{"t":51485,"r":0.20},{"t":51482,"r":0.16},{"t":51487,"r":-0.06},
{"t":51490,"r":0.72},{"t":51492,"r":0.51},{"t":51489,"r":0.49},{"t":51491,"r":0.28},{"t":51488,"r":0.13},
{"t":51496,"r":0.63},{"t":51498,"r":0.55},{"t":51495,"r":0.36},{"t":51497,"r":0.19},{"t":51494,"r":0.01},
{"t":51502,"r":0.78},{"t":51504,"r":0.57},{"t":51501,"r":0.38},{"t":51503,"r":0.35},{"t":51500,"r":0.16},{"t":51505,"r":0.02},
{"t":51508,"r":0.65},{"t":51510,"r":0.49},{"t":51507,"r":0.38},{"t":51509,"r":0.21},{"t":51506,"r":0.04},
{"t":51514,"r":0.76},{"t":51516,"r":0.62},{"t":51513,"r":0.43},{"t":51515,"r":0.28},{"t":51512,"r":0.14},{"t":51517,"r":0.11},
{"t":51520,"r":0.66},{"t":51522,"r":0.51},{"t":51519,"r":0.46},{"t":51521,"r":0.27},{"t":51518,"r":0.09},{"t":51523,"r":0.02},
{"t":51526,"r":0.56},{"t":51528,"r":0.35},{"t":51525,"r":0.21},{"t":51527,"r":0.18},{"t":51524,"r":-0.05},
{"t":51532,"r":0.71},{"t":51534,"r":0.53},{"t":51531,"r":0.32},{"t":51533,"r":0.14},{"t":51530,"r":0.10},{"t":51535,"r":-0.12}
]},
"layer":[
{"data":{"name":"pts"},"mark":{"type":"circle","size":110,"color":"black","opacity":1},
"encoding":{
"x":{"field":"t","type":"quantitative","scale":{"domain":[50025,51605],"nice":false,"zero":false},
"axis":{"orient":"bottom","values":[50500,51000,51500],"ticks":false,"labelExpr":"datum.value == 50500 ? '5.05×10⁴' : datum.value == 51000 ? '5.1×10⁴' : '5.15×10⁴'","labelFont":"DejaVu Sans Condensed, DejaVu Sans","labelFontSize":39,"labelFontWeight":"bold","labelPadding":17,"labelLimit":500,"labelFlush":false,"labelOverlap":false,"title":"Time (MJD)","titleFont":"DejaVu Serif","titleFontSize":37,"titleFontWeight":"bold","titleX":562,"titleY":86,"titleAlign":"center","titleBaseline":"middle"}},
"y":{"field":"r","type":"quantitative","scale":{"domain":[-3.09,4.25],"nice":false,"zero":false},
"axis":{"orient":"left","values":[-2,0,2,4],"ticks":false,"labelFont":"DejaVu Sans Condensed, DejaVu Sans","labelFontSize":39,"labelFontWeight":"bold","labelPadding":11,"labelLimit":500,"labelFlush":false,"labelOverlap":false,"title":"ASM count rate","titleFont":"DejaVu Serif","titleFontSize":37,"titleFontWeight":"bold","titleX":-88,"titleY":557,"titleAngle":-90,"titleAlign":"center","titleBaseline":"middle"}}}},
{"data":{"name":"obs"},"mark":{"type":"rule","strokeDash":[21,11],"strokeWidth":3,"color":"black"},
"encoding":{
"x":{"field":"t","type":"quantitative","scale":{"domain":[50025,51605],"nice":false,"zero":false},"axis":{"orient":"bottom","values":[50500,51000,51500],"labels":false,"tickSize":-27,"title":null}},
"y":{"datum":-3.09,"type":"quantitative","scale":{"domain":[-3.09,4.25],"nice":false,"zero":false},"axis":{"orient":"left","values":[-2,0,2,4],"labels":false,"tickSize":-28,"title":null}},
"y2":{"datum":4.25}}},
{"data":{"name":"arrows"},"mark":{"type":"rule","strokeWidth":2.5,"color":"black"},
"encoding":{
"x":{"field":"t","type":"quantitative","scale":{"domain":[50025,51605],"nice":false,"zero":false},"axis":{"orient":"bottom","values":[50100,50200,50300,50400,50600,50700,50800,50900,51100,51200,51300,51400],"labels":false,"tickSize":-13,"title":null}},
"y":{"field":"r","type":"quantitative","scale":{"domain":[-3.09,4.25],"nice":false,"zero":false},"axis":{"orient":"left","values":[-3,-2.5,-1.5,-1,-0.5,0.5,1,1.5,2.5,3,3.5],"labels":false,"tickSize":-13,"title":null}},
"x2":{"field":"t2"},"y2":{"field":"r2"}}},
{"data":{"name":"sax"},"mark":{"type":"text","font":"Liberation Mono","fontSize":46,"color":"black","stroke":"black","strokeWidth":0.9,"align":"center","baseline":"alphabetic"},
"encoding":{
"x":{"field":"t","type":"quantitative","scale":{"domain":[50025,51605],"nice":false,"zero":false},"axis":{"orient":"top","values":[50500,51000,51500],"labels":false,"tickSize":-27,"title":null}},
"y":{"field":"r","type":"quantitative","scale":{"domain":[-3.09,4.25],"nice":false,"zero":false},"axis":{"orient":"right","values":[-2,0,2,4],"labels":false,"tickSize":-28,"title":null}},
"text":{"field":"label"}}},
{"data":{"name":"dates"},"mark":{"type":"text","font":"Liberation Mono","fontSize":46,"color":"black","stroke":"black","strokeWidth":0.9,"align":"center","baseline":"alphabetic"},
"encoding":{
"x":{"field":"t","type":"quantitative","scale":{"domain":[50025,51605],"nice":false,"zero":false},"axis":{"orient":"top","values":[50100,50200,50300,50400,50600,50700,50800,50900,51100,51200,51300,51400],"labels":false,"tickSize":-13,"title":null}},
"y":{"field":"r","type":"quantitative","scale":{"domain":[-3.09,4.25],"nice":false,"zero":false},"axis":{"orient":"right","values":[-3,-2.5,-1.5,-1,-0.5,0.5,1,1.5,2.5,3,3.5],"labels":false,"tickSize":-13,"title":null}},
"text":{"field":"label"}}}
],
"resolve":{"axis":{"x":"independent","y":"independent"}}
}
